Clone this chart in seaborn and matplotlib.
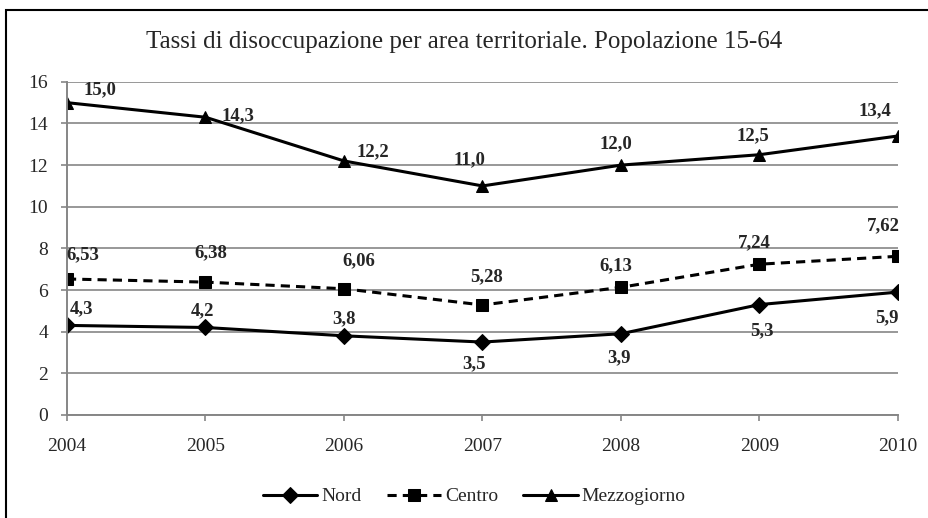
import pandas as pd
import matplotlib.pyplot as plt
import seaborn as sns
from matplotlib.patches import Rectangle

# Dati
anni = [2004, 2005, 2006, 2007, 2008, 2009, 2010]
nord = [4.3, 4.2, 3.8, 3.5, 3.9, 5.3, 5.9]
centro = [6.53, 6.38, 6.06, 5.28, 6.13, 7.24, 7.62]
mezzogiorno = [15.0, 14.3, 12.2, 11.0, 12.0, 12.5, 13.4]

nord_lab = ["4,3", "4,2", "3,8", "3,5", "3,9", "5,3", "5,9"]
centro_lab = ["6,53", "6,38", "6,06", "5,28", "6,13", "7,24", "7,62"]
mezz_lab = ["15,0", "14,3", "12,2", "11,0", "12,0", "12,5", "13,4"]

df = pd.DataFrame({"Anno": anni * 3,
                   "Valore": nord + centro + mezzogiorno,
                   "Area": ["Nord"] * 7 + ["Centro"] * 7 + ["Mezzogiorno"] * 7})

sns.set_style("white")
plt.rcParams["font.family"] = ["Liberation Serif", "DejaVu Serif"]

fig = plt.figure(figsize=(9.29, 5.18), dpi=100)
ax = fig.add_axes([0.0721, 0.199, 0.8945, 0.643])

stili = {"Nord": ("D", "-", 8), "Centro": ("s", (0, (3, 2)), 8.5), "Mezzogiorno": ("^", "-", 9)}
for area in ["Nord", "Centro", "Mezzogiorno"]:
    m, ls, ms = stili[area]
    sns.lineplot(data=df[df["Area"] == area], x="Anno", y="Valore", ax=ax,
                 color="black", marker=m, markersize=ms, linestyle=ls,
                 linewidth=2.2, markeredgecolor="black", label=area)

# Etichette dei valori (spostamento in pixel)
off_mezz = [(33, 13), (32, 1), (29, 9), (-13, 26), (-5, 21), (-7, 19), (-23, 25)]
off_centro = [(16, 24), (5, 29), (15, 28), (4, 28), (-5, 22), (-5, 21), (-15, 31)]
off_nord = [(15, 17), (-3, 17), (0, 17), (-8, -22), (-2, -24), (2, -26), (-11, -26)]
for serie, lab, off in [(mezzogiorno, mezz_lab, off_mezz),
                        (centro, centro_lab, off_centro),
                        (nord, nord_lab, off_nord)]:
    for x, y, t, o in zip(anni, serie, lab, off):
        ax.annotate(t, (x, y), xytext=o, textcoords="offset pixels",
                    ha="center", va="center", fontsize=13.5, fontweight="bold")

ax.set_xlim(2004, 2010)
ax.set_ylim(0, 16)
ax.set_yticks(range(0, 17, 2))
ax.set_xticks(anni)
ax.set_xlabel("")
ax.set_ylabel("")
ax.yaxis.grid(True, color="#868686", linewidth=1.2)
for s in ["top", "right"]:
    ax.spines[s].set_visible(False)
for s in ["left", "bottom"]:
    ax.spines[s].set_color("#868686")
    ax.spines[s].set_linewidth(1.4)
ax.tick_params(axis="both", direction="out", length=4.5, width=1.2, color="#868686",
               labelsize=14, left=True, bottom=True)
ax.tick_params(axis="x", pad=12)
ax.tick_params(axis="y", pad=9)
ax.set_axisbelow(True)

fig.suptitle("Tassi di disoccupazione per area territoriale. Popolazione 15-64",
             y=0.94, fontsize=18)

ax.legend(loc="center", bbox_to_anchor=(0.49, -0.245), ncol=3, frameon=False,
          fontsize=14, handlelength=2.8, columnspacing=1.3, handletextpad=0.2)

fig.patches.append(Rectangle((0.0065, -0.05), 1.2, 1.031, transform=fig.transFigure,
                             fill=False, edgecolor="black", linewidth=1.5))

plt.savefig("out.png", dpi=100)
